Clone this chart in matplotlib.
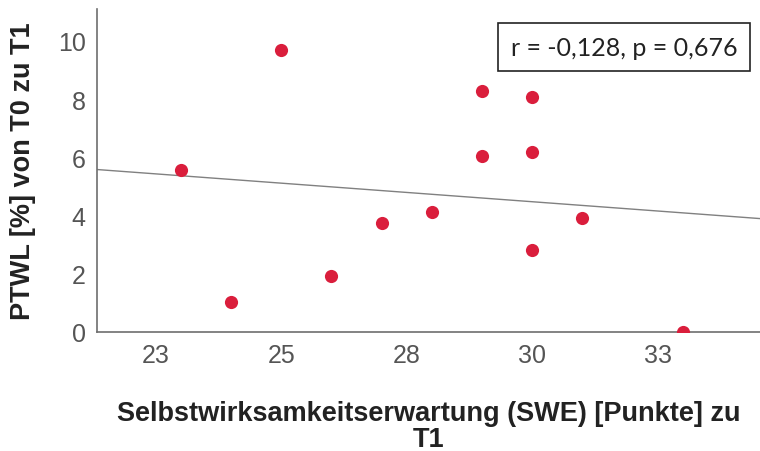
import numpy as np
import matplotlib.pyplot as plt

plt.rcParams['font.family'] = ['Liberation Sans', 'DejaVu Sans']

# SWE score at T1 vs. percent total weight loss T0 -> T1
swe = [23, 24, 25, 26, 27, 28, 29, 29, 30, 30, 30, 31, 33]
ptwl = [5.55, 1.03, 9.69, 1.93, 3.76, 4.14, 8.28, 6.03, 8.07, 6.17, 2.83, 3.90, 0.0]

x_ticks = [22.5, 25, 27.5, 30, 32.5]
x_tick_labels = ['23', '25', '28', '30', '33']
y_ticks = [0, 2, 4, 6, 8, 10]

fig = plt.figure(figsize=(7.6, 4.52), dpi=100)
ax = fig.add_axes([0.1276, 0.2633, 0.8724, 0.7147])

ax.scatter(swe, ptwl, s=90, color='#DA1E3C', zorder=3, linewidths=0)

# linear fit line across the whole x range
xlim = (21.33, 34.54)
k, d = np.polyfit(swe, ptwl, 1)
xs = np.array(xlim)
ax.plot(xs, k * xs + d, color='#808080', lw=1.0, zorder=2)

ax.set_xlim(*xlim)
ax.set_ylim(0, 11.1)
ax.set_xticks(x_ticks)
ax.set_xticklabels(x_tick_labels)
ax.set_yticks(y_ticks)
ax.tick_params(length=0, labelsize=18, colors='#555555', pad=8)

for s in ['top', 'right']:
    ax.spines[s].set_visible(False)
for s in ['left', 'bottom']:
    ax.spines[s].set_color('#6e6e6e')
    ax.spines[s].set_linewidth(1.2)

ax.set_xlabel('Selbstwirksamkeitserwartung (SWE) [Punkte] zu\nT1',
              fontsize=19.5, fontweight='bold', color='#222222', labelpad=24,
              linespacing=1.0)
ax.set_ylabel('PTWL [%] von T0 zu T1', fontsize=19.5, fontweight='bold',
              color='#222222', labelpad=16)

ax.text(0.795, 0.882, 'r = -0,128, p = 0,676', transform=ax.transAxes,
        ha='center', va='center', fontsize=18, family='Lato', color='#222222',
        bbox=dict(boxstyle='square,pad=0.5', fc='white', ec='#222222', lw=1.2))

fig.savefig('out.png', dpi=100)
